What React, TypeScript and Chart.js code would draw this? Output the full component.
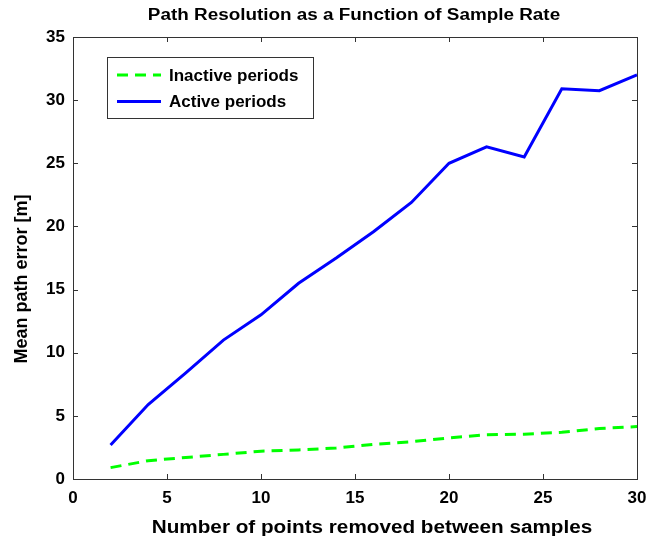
import React, { useEffect, useRef } from "react";
import { Chart, registerables } from "chart.js";

Chart.register(...registerables);

// Number of points removed between samples
const removedPoints = [2, 4, 6, 8, 10, 12, 14, 16, 18, 20, 22, 24, 26, 28, 30];
// Mean path error [m] during inactive periods
const inactiveError = [0.9, 1.45, 1.7, 1.95, 2.2, 2.3, 2.45, 2.75, 2.95, 3.25, 3.5, 3.55, 3.7, 4.0, 4.15];
// Mean path error [m] during active periods
const activeError = [2.7, 5.9, 8.4, 11.0, 13.0, 15.5, 17.5, 19.6, 21.9, 25.0, 26.3, 25.5, 30.9, 30.75, 32.0];

const xTicks = [0, 5, 10, 15, 20, 25, 30];
const yTicks = [0, 5, 10, 15, 20, 25, 30, 35];

const FONT = '"Liberation Sans", Arial, Helvetica, sans-serif';

function wideText(ctx: CanvasRenderingContext2D, text: string, x: number, y: number, sx: number) {
  ctx.save();
  ctx.translate(x, y);
  ctx.scale(sx, 1);
  ctx.fillText(text, 0, 0);
  ctx.restore();
}

// Axes box, inward tick marks, titles and an inset legend, drawn MATLAB-style
const framePlugin = {
  id: "frame",
  afterDraw(chart: any) {
    const { ctx, chartArea: a, scales } = chart;
    const xs = scales.x;
    const ys = scales.y;
    ctx.save();
    ctx.strokeStyle = "#333";
    ctx.lineWidth = 1;
    ctx.strokeRect(Math.round(a.left) + 0.5, Math.round(a.top) + 0.5, Math.round(a.right - a.left), Math.round(a.bottom - a.top));
    const tl = 5;
    ctx.beginPath();
    xTicks.forEach((v) => {
      const px = Math.round(xs.getPixelForValue(v)) + 0.5;
      ctx.moveTo(px, a.bottom);
      ctx.lineTo(px, a.bottom - tl);
      ctx.moveTo(px, a.top);
      ctx.lineTo(px, a.top + tl);
    });
    yTicks.forEach((v) => {
      const py = Math.round(ys.getPixelForValue(v)) + 0.5;
      ctx.moveTo(a.left, py);
      ctx.lineTo(a.left + tl, py);
      ctx.moveTo(a.right, py);
      ctx.lineTo(a.right - tl, py);
    });
    ctx.stroke();

    // Titles
    ctx.fillStyle = "#000";
    ctx.textAlign = "center";
    ctx.textBaseline = "middle";
    ctx.font = `bold 16px ${FONT}`;
    wideText(ctx, "Path Resolution as a Function of Sample Rate", 354, 15.5, 1.18);
    ctx.font = `bold 18px ${FONT}`;
    wideText(ctx, "Number of points removed between samples", 372, 528, 1.15);
    ctx.save();
    ctx.translate(22, 279);
    ctx.rotate(-Math.PI / 2);
    ctx.fillText("Mean path error [m]", 0, 0);
    ctx.restore();

    // Legend
    const lx = 107.5, ly = 57.5, lw = 206, lh = 61;
    ctx.fillStyle = "#fff";
    ctx.fillRect(lx, ly, lw, lh);
    ctx.strokeStyle = "#333";
    ctx.lineWidth = 1;
    ctx.strokeRect(lx, ly, lw, lh);
    const rows = [75, 101.5];
    chart.data.datasets.forEach((ds: any, i: number) => {
      const y = rows[i];
      ctx.beginPath();
      ctx.strokeStyle = ds.borderColor;
      ctx.lineWidth = ds.borderWidth;
      ctx.setLineDash(ds.borderDash || []);
      ctx.moveTo(117, y);
      ctx.lineTo(161, y);
      ctx.stroke();
      ctx.setLineDash([]);
      ctx.fillStyle = "#000";
      ctx.textAlign = "left";
      ctx.font = `bold 17px ${FONT}`;
      ctx.fillText(ds.label, 169, y + 1);
    });
    ctx.restore();
  },
};

export default function App() {
  const canvasRef = useRef<HTMLCanvasElement | null>(null);

  useEffect(() => {
    document.body.style.margin = "0";
    const canvas = canvasRef.current;
    if (!canvas) return;
    const chart = new Chart(canvas, {
      type: "line",
      data: {
        labels: removedPoints,
        datasets: [
          {
            label: "Inactive periods",
            data: removedPoints.map((x, i) => ({ x, y: inactiveError[i] })),
            borderColor: "#00ff00",
            borderWidth: 3,
            borderDash: [11, 7],
            pointRadius: 0,
            fill: false,
          },
          {
            label: "Active periods",
            data: removedPoints.map((x, i) => ({ x, y: activeError[i] })),
            borderColor: "#0000ff",
            borderWidth: 3,
            pointRadius: 0,
            fill: false,
          },
        ],
      },
      options: {
        animation: false,
        responsive: false,
        devicePixelRatio: 1,
        layout: { padding: { left: 0, top: 37, right: 10, bottom: 0 } },
        plugins: {
          legend: { display: false },
          title: { display: false },
          tooltip: { enabled: false },
        },
        scales: {
          x: {
            type: "linear",
            min: 0,
            max: 30,
            grid: { display: false, drawTicks: false },
            border: { display: false },
            afterFit: (s: any) => {
              s.height = 57;
              s.paddingLeft = 0;
              s.paddingRight = 0;
            },
            afterBuildTicks: (s: any) => {
              s.ticks = xTicks.map((v) => ({ value: v }));
            },
            ticks: {
              color: "#000",
              padding: 9,
              maxRotation: 0,
              font: { family: FONT, size: 17, weight: "bold" },
            },
          },
          y: {
            type: "linear",
            min: 0,
            max: 35,
            grid: { display: false, drawTicks: false },
            border: { display: false },
            afterFit: (s: any) => {
              s.width = 73;
              s.paddingTop = 0;
              s.paddingBottom = 0;
            },
            afterBuildTicks: (s: any) => {
              s.ticks = yTicks.map((v) => ({ value: v }));
            },
            ticks: {
              color: "#000",
              padding: 8,
              font: { family: FONT, size: 17, weight: "bold" },
            },
          },
        },
      },
      plugins: [framePlugin],
    });
    return () => chart.destroy();
  }, []);

  return (
    <div style={{ width: 647, height: 536, background: "#fff" }}>
      <canvas ref={canvasRef} width={647} height={536} style={{ display: "block" }} />
    </div>
  );
}
